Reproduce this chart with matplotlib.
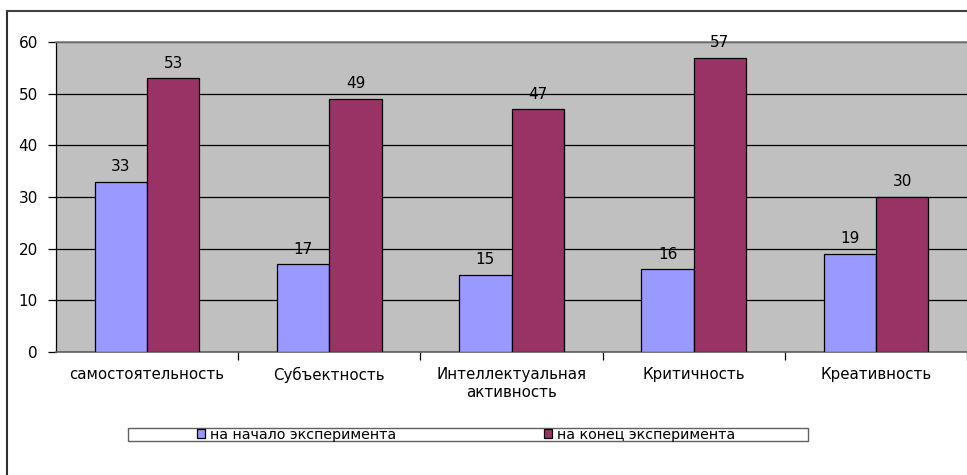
import matplotlib
matplotlib.use("Agg")
import matplotlib.pyplot as plt
from matplotlib.patches import Rectangle
from matplotlib.lines import Line2D
import numpy as np

plt.rcParams['font.family'] = ['DejaVu Sans']

categories = ["самостоятельность", "Субъектность", "Интеллектуальная\nактивность",
              "Критичность", "Креативность"]
series_names = ["на начало эксперимента", "на конец эксперимента"]
start_values = [33, 17, 15, 16, 19]
end_values = [53, 49, 47, 57, 30]
y_ticks = [0, 10, 20, 30, 40, 50, 60]

colors = ["#9999FF", "#993366"]

W, H = 967, 475
fig = plt.figure(figsize=(W / 100, H / 100), dpi=100)

# outer chart border (left and top visible)
fig.add_artist(Line2D([7 / W, 7 / W], [0, 1 - 11 / H], transform=fig.transFigure,
                      color="#303030", lw=1.5))
fig.add_artist(Line2D([7 / W, 1], [1 - 11 / H, 1 - 11 / H], transform=fig.transFigure,
                      color="#404040", lw=1.5))

ax = fig.add_axes([56 / W, (H - 352) / H, (W - 56) / W, (352 - 42) / H])
ax.set_facecolor("#C0C0C0")

x = np.arange(len(categories))
bw = 0.287
b1 = ax.bar(x - bw / 2, start_values, bw, color=colors[0], edgecolor="black", lw=0.9,
            label=series_names[0], zorder=3)
b2 = ax.bar(x + bw / 2, end_values, bw, color=colors[1], edgecolor="black", lw=0.9,
            label=series_names[1], zorder=3)

for bars, vals in ((b1, start_values), (b2, end_values)):
    for r, v in zip(bars, vals):
        ax.annotate(str(v), (r.get_x() + r.get_width() / 2, v), xytext=(0, 5.5),
                    textcoords="offset points", ha="center", va="bottom", fontsize=11)

ax.set_xlim(-0.5, len(categories) - 0.5)
ax.set_ylim(0, 60)
ax.set_yticks(y_ticks)
ax.set_yticklabels([str(t) for t in y_ticks], fontsize=11)
ax.yaxis.grid(True, color="black", lw=0.9, zorder=1)
ax.set_axisbelow(True)
ax.tick_params(axis="y", length=6, width=0.9, color="black", pad=7)

ax.set_xticks(x)
ax.set_xticklabels(categories, fontsize=10.8, linespacing=1.25)
ax.set_xticks(np.arange(-0.5, len(categories), 1.0)[1:], minor=True)
ax.tick_params(axis="x", which="major", length=0, pad=11)
ax.tick_params(axis="x", which="minor", length=6, width=0.9, color="black")

ax.spines["top"].set_color("#808080")
ax.spines["top"].set_linewidth(1.2)
ax.spines["right"].set_visible(False)
ax.spines["bottom"].set_color("#606060")
ax.spines["bottom"].set_linewidth(1.2)
ax.spines["left"].set_color("black")
ax.spines["left"].set_linewidth(0.9)

# legend box
fig.add_artist(Rectangle((128 / W, 1 - 441 / H), 680 / W, 13 / H, transform=fig.transFigure,
                         facecolor="white", edgecolor="#606060", lw=1.0))
leg = fig.legend(handles=[b1, b2], labels=series_names, loc="center",
                 bbox_to_anchor=(466 / W, 1 - 435 / H), ncol=2, frameon=False,
                 fontsize=10.3, handlelength=0.6, handleheight=0.6, handletextpad=0.35,
                 columnspacing=10.3, borderpad=0)

fig.savefig("out.png", dpi=100)
